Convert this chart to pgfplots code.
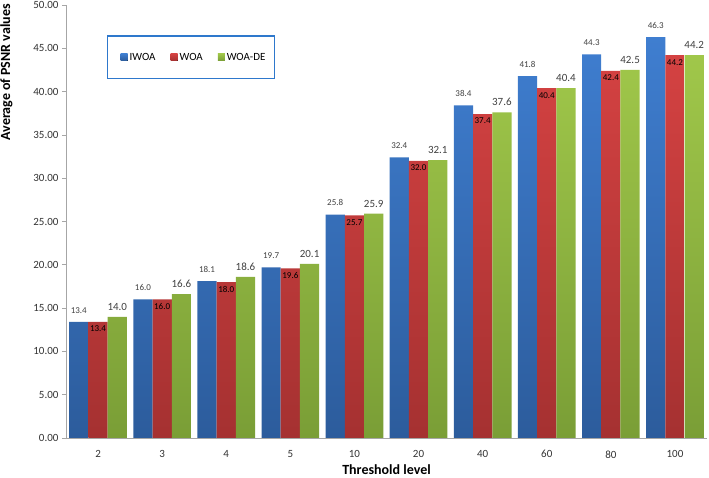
\documentclass[border=0pt]{standalone}
\usepackage{fontspec}
\setmainfont{Carlito}
\usepackage{pgfplots}
\pgfplotsset{compat=1.18}
\definecolor{btop}{HTML}{3F7ED0}
\definecolor{bbot}{HTML}{2C5C9C}
\definecolor{rtop}{HTML}{D44242}
\definecolor{rbot}{HTML}{A53131}
\definecolor{gtop}{HTML}{A0C74A}
\definecolor{gbot}{HTML}{7A9E36}
\definecolor{lgborder}{HTML}{2E78CC}
\begin{document}
\begin{tikzpicture}
\useasboundingbox (-66pt,-40pt) rectangle (643pt,438pt);
\begin{axis}[
  scale only axis,
  width=641pt, height=433pt,
  at={(0,0)}, anchor=south west,
  ybar=0pt,
  bar width=0.3,
  xmin=-0.5, xmax=9.5,
  ymin=0, ymax=50,
  xtick={0,...,9},
  xticklabels={2,3,4,5,10,20,40,60,80,100},
  ytick={0,5,...,50},
  axis x line*=bottom, axis y line*=left,
  axis line style={draw=gray!70, line width=0.8pt},
  x axis line style={-}, y axis line style={-},
  xtick style={draw=none},
  ytick style={draw=gray!70, line width=0.6pt},
  tick align=outside,
  major tick length=4pt,
  /pgf/number format/assume math mode=true,
  yticklabel style={/pgf/number format/fixed, /pgf/number format/fixed zerofill, /pgf/number format/precision=2, font=\fontsize{11}{13}\selectfont, text=black!80},
  xticklabel style={font=\fontsize{11}{13}\selectfont, text=black!80, yshift=-5pt},
  ylabel={\bfseries Average of PSNR values},
  ylabel style={font=\fontsize{14}{16}\selectfont, at={(axis description cs:-0.078,1.01)}, anchor=south east},
  xlabel={\bfseries Threshold level},
  xlabel style={font=\fontsize{14}{16}\selectfont, yshift=0pt},
  legend columns=3,
  legend style={at={(0.064,0.93)}, anchor=north west, draw=lgborder, line width=1.2pt,
    font=\fontsize{11}{13}\selectfont, inner xsep=7pt, inner ysep=15pt,
    /tikz/every even column/.append style={column sep=7pt}},
  legend image code/.code={\path (0pt,0pt) -- (13pt,0pt); \fill[#1] (6pt,-3.5pt) rectangle (13pt,3.5pt);},
  nodes near coords={\pgfmathprintnumber[fixed,fixed zerofill,precision=1]{\pgfplotspointmeta}},
]
\addplot[draw=none, top color=btop, bottom color=bbot, bar shift=-0.3,
  nodes near coords style={font=\fontsize{9}{10}\selectfont, text=black!75, anchor=south, yshift=5pt}]
  coordinates {(0,13.4) (1,16.0) (2,18.1) (3,19.7) (4,25.8) (5,32.4) (6,38.4) (7,41.8) (8,44.3) (9,46.3)};
\addplot[draw=none, top color=rtop, bottom color=rbot, bar shift=0,
  nodes near coords style={font=\fontsize{9}{10}\selectfont, text=black, anchor=north, yshift=-0.5pt}]
  coordinates {(0,13.4) (1,16.0) (2,18.0) (3,19.6) (4,25.7) (5,32.0) (6,37.4) (7,40.4) (8,42.4) (9,44.2)};
\addplot[draw=none, top color=gtop, bottom color=gbot, bar shift=0.3,
  nodes near coords style={font=\fontsize{11}{13}\selectfont, text=black!75, anchor=south, yshift=3pt}]
  coordinates {(0,14.0) (1,16.6) (2,18.6) (3,20.1) (4,25.9) (5,32.1) (6,37.6) (7,40.4) (8,42.5) (9,44.2)};
\legend{IWOA,WOA,WOA-DE}
\end{axis}
\end{tikzpicture}
\end{document}
